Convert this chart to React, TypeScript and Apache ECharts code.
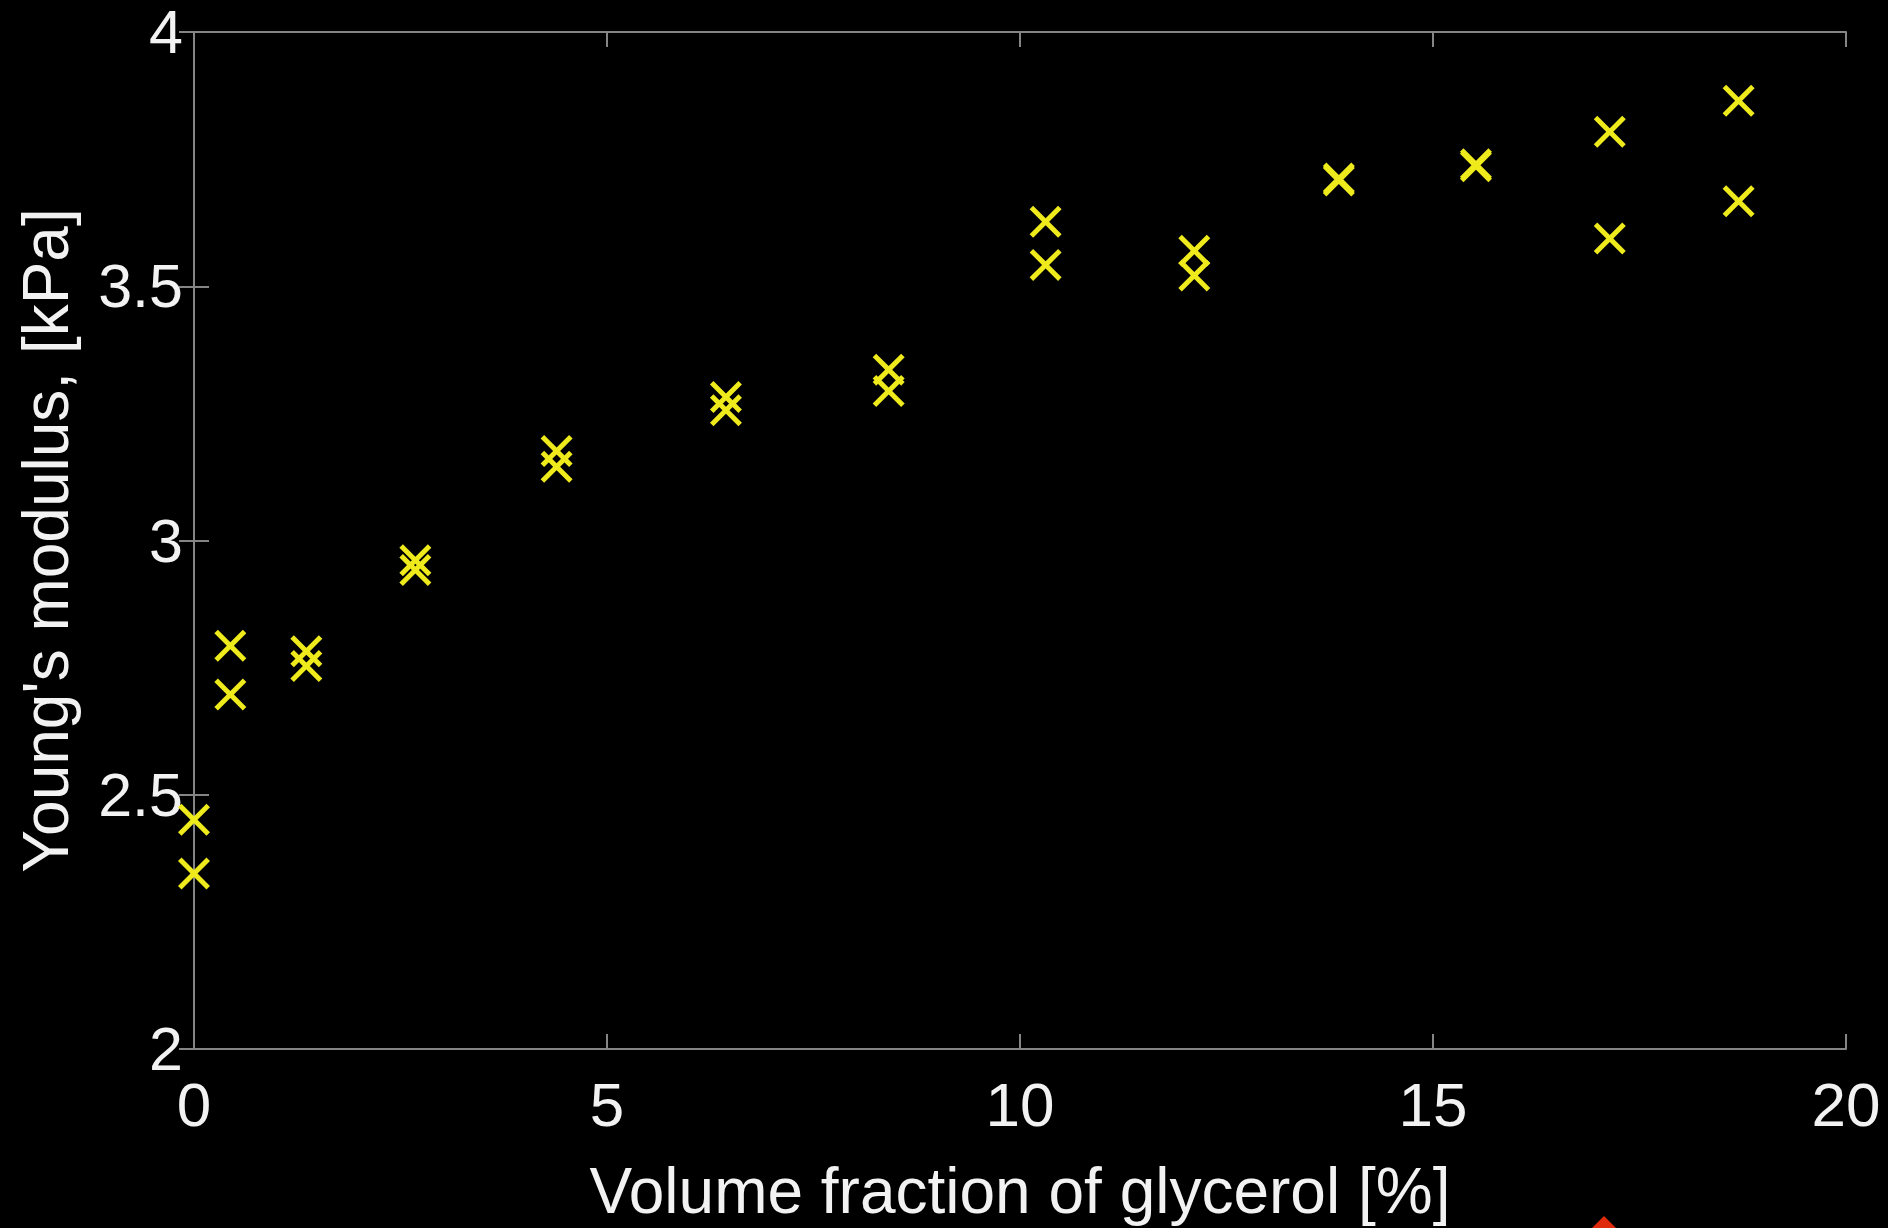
import React, { useEffect, useRef } from "react";
import * as echarts from "echarts";

// Volume fraction of glycerol [%]
const xValues: number[] = [
  0.0, 0.0, 0.44, 0.44, 1.36, 1.36, 2.68, 2.68, 4.39, 4.39, 6.44, 6.44,
  8.41, 8.41, 10.31, 10.31, 12.11, 12.11, 13.86, 13.86, 15.52, 15.52,
  17.14, 17.14, 18.7, 18.7,
];
// Young's modulus [kPa]
const yValues: number[] = [
  2.451, 2.345, 2.793, 2.697, 2.782, 2.753, 2.961, 2.942, 3.176, 3.145,
  3.282, 3.256, 3.336, 3.294, 3.627, 3.542, 3.57, 3.521, 3.712, 3.708,
  3.74, 3.736, 3.804, 3.594, 3.865, 3.667,
];

const xTicks = { min: 0, max: 20, interval: 5 };
const yTicks = { min: 2, max: 4, interval: 0.5 };

const xTitle = "Volume fraction of glycerol [%]";
const yTitle = "Young's modulus, [kPa]";

const FONT = "'Liberation Sans', Arial, Helvetica, sans-serif";
const AXIS_COLOR = "#858585";
const TEXT_COLOR = "#f2f2f2";
const MARK_COLOR = "#eeea1c";

const CROSS =
  "path://M0,11 L11,0 L50,39 L89,0 L100,11 L61,50 L100,89 L89,100 L50,61 L11,100 L0,89 L39,50 Z";

export default function App() {
  const ref = useRef<HTMLDivElement>(null);

  useEffect(() => {
    if (!ref.current) return;
    const chart = echarts.init(ref.current, null, { renderer: "svg" });
    const data = xValues.map((x, i) => [x, yValues[i]]);

    const axisLine = { show: true, lineStyle: { color: AXIS_COLOR, width: 2 } };
    const axisTick = {
      show: true,
      inside: true,
      length: 15,
      lineStyle: { color: AXIS_COLOR, width: 2 },
    };

    chart.setOption({
      animation: false,
      backgroundColor: "#000000",
      textStyle: { fontFamily: FONT },
      grid: { left: 194, right: 42, top: 29, bottom: 178, containLabel: false },
      xAxis: [
        {
          type: "value",
          position: "bottom",
          ...xTicks,
          axisLine,
          axisTick,
          splitLine: { show: false },
          axisLabel: {
            color: TEXT_COLOR,
            fontSize: 62,
            fontFamily: FONT,
            margin: 24,
          },
          name: xTitle,
          nameLocation: "middle",
          nameGap: 110,
          nameTextStyle: { color: TEXT_COLOR, fontSize: 64, fontFamily: FONT },
        },
        {
          type: "value",
          position: "top",
          ...xTicks,
          axisLine,
          axisTick,
          splitLine: { show: false },
          axisLabel: { show: false },
        },
      ],
      yAxis: [
        {
          type: "value",
          position: "left",
          ...yTicks,
          axisLine,
          axisTick,
          splitLine: { show: false },
          axisLabel: {
            color: TEXT_COLOR,
            fontSize: 61,
            fontFamily: FONT,
            margin: 11,
            lineHeight: 44,
            padding: [20, 0, 0, 0],
            showMinLabel: true,
            showMaxLabel: true,
          },
          name: yTitle,
          nameLocation: "middle",
          nameRotate: 90,
          nameGap: 116,
          nameTextStyle: { color: TEXT_COLOR, fontSize: 64, fontFamily: FONT },
        },
        {
          type: "value",
          position: "right",
          ...yTicks,
          axisLine,
          axisTick,
          splitLine: { show: false },
          axisLabel: { show: false },
        },
      ],
      series: [
        {
          type: "scatter",
          xAxisIndex: 0,
          yAxisIndex: 0,
          data,
          symbol: CROSS,
          symbolSize: 32,
          itemStyle: { color: MARK_COLOR, opacity: 1 },
          clip: false,
          z: 5,
        },
      ],
      graphic: [
        {
          type: "polygon",
          shape: {
            points: [
              [1604, 1216],
              [1616, 1228],
              [1604, 1240],
              [1592, 1228],
            ],
          },
          style: { fill: "#e02a0c" },
        },
      ],
    });

    return () => chart.dispose();
  }, []);

  return (
    <div
      ref={ref}
      style={{
        position: "fixed",
        left: 0,
        top: 0,
        width: 1888,
        height: 1228,
        background: "#000",
      }}
    />
  );
}
